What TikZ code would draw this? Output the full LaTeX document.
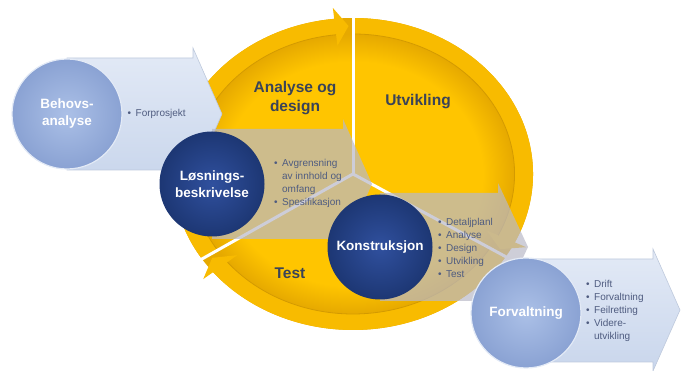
\documentclass[tikz,border=0pt]{standalone}
\usepackage{fontspec}
\setmainfont{Liberation Sans}
\usepackage{xcolor}
\usepackage{tikz}
\definecolor{cycmid}{HTML}{FFC500}
\definecolor{cycdark}{HTML}{E6A900}
\definecolor{ringgold}{HTML}{F8BB00}
\definecolor{ringedge}{HTML}{D39A00}
\definecolor{paleblue}{HTML}{E3EAF6}
\definecolor{paleblueb}{HTML}{C9D6EC}
\definecolor{chevgray}{HTML}{B9B9C8}
\definecolor{discdark}{HTML}{30509E}
\definecolor{discdarkout}{HTML}{1D3774}
\definecolor{disclight}{HTML}{ABC0E7}
\definecolor{disclightout}{HTML}{8AA2D3}
\definecolor{slate}{HTML}{3A4358}
\definecolor{listblue}{HTML}{4F5C80}
\pgfdeclareradialshading{cycleglow}{\pgfpoint{0bp}{0bp}}{color(0bp)=(cycmid); color(18bp)=(cycmid); color(22.4bp)=(cycdark); color(25bp)=(cycdark); color(50bp)=(cycdark)}
\newcommand{\blt}{\makebox[8pt][l]{\textbullet}}
\newcommand{\nobl}{\hspace*{8pt}}

\begin{document}
\begin{tikzpicture}[x=1pt, y=1pt,
	ring/.style={fill=ringgold},
	ringline/.style={draw=ringedge, line width=0.8pt},
	gap/.style={draw=white, line width=3pt},
	palechev/.style={top color=paleblue, bottom color=paleblueb, draw=paleblueb!85!gray, line width=0.6pt},
	graychev/.style={fill=chevgray, fill opacity=0.7},
	disc/.style={circle, minimum size=#1, inner sep=0pt, align=center, text=white, font=\fontsize{13.5}{17}\selectfont\bfseries},
	darkdisc/.style={disc=104pt, inner color=discdark, outer color=discdarkout, draw=discdarkout, line width=1pt},
	lightdisc/.style={disc=110pt, inner color=disclight, outer color=disclightout, draw=paleblue, line width=1.2pt},
	phase/.style={text=slate, align=center, font=\fontsize{15.5}{19}\selectfont\bfseries},
	bullets/.style={text=listblue, align=left, anchor=west, inner sep=0pt, font=\fontsize{10}{13}\selectfont}]
	\useasboundingbox (0,0) rectangle (683,371);
	
	% the cycle
	\begin{scope}[shift={(353,197)}, xscale=1.154]
	\shade[shading=cycleglow] (0,0) circle[radius=156];
	\fill[ring] (213:156) arc[start angle=213, end angle=96, radius=156] -- (96:167) -- (91.5:148) -- (96:129) -- (96:140) arc[start angle=96, end angle=213, radius=140] -- cycle;
	\fill[ring] (90:156) arc[start angle=90, end angle=-26, radius=156] -- (-26:167) -- (-30.5:148) -- (-26:129) -- (-26:140) arc[start angle=-26, end angle=90, radius=140] -- cycle;
	\fill[ring] (-32:156) arc[start angle=-32, end angle=-141, radius=156] -- (-141:167) -- (-145.5:148) -- (-141:129) -- (-141:140) arc[start angle=-141, end angle=-32, radius=140] -- cycle;
	\draw[ringline] (213:140) arc[start angle=213, end angle=96, radius=140];
	\draw[ringline] (90:140) arc[start angle=90, end angle=-26, radius=140];
	\draw[ringline] (-32:140) arc[start angle=-32, end angle=-141, radius=140];
	\draw[gap] (0,0) -- (90:172);
	\draw[gap] (0,0) -- (213:160);
	\draw[gap] (0,0) -- (-32:160);
	\end{scope}
	
	\node[phase] (anadesign) at (295,273) {Analyse og\\design};
	\node[phase] (utvikling) at (418,269) {Utvikling};
	\node[phase] (test) at (290,98) {Test};
	
	% Behovsanalyse
	\draw[palechev] (67,313) -- (193,313) -- (193,323) -- (222,257) -- (193,191) -- (193,201) -- (67,201) -- cycle;
	\node[lightdisc] (behov) at (67,257) {Behovs-\\analyse};
	\node[right of=behov, xshift=32pt, bullets] (forprosjekt) {\blt Forprosjekt};
	
	% Losningsbeskrivelse
	\fill[graychev] (212,242) -- (343,242) -- (343,252) -- (372,187) -- (343,122) -- (343,132) -- (212,132) -- cycle;
	\node[darkdisc] (losning) at (212,187) {Løsnings-\\beskrivelse};
	\node[right of=losning, xshift=33.5pt, yshift=1pt, bullets] (avgrensning) {\blt Avgrensning\\\nobl av innhold og\\\nobl omfang\\\blt Spesifikasjon};
	
	% Konstruksjon
	\fill[graychev] (380,178) -- (498,178) -- (498,188) -- (528,124) -- (498,60) -- (498,70) -- (380,70) -- cycle;
	\node[darkdisc] (konstr) at (380,124) {Konstruksjon};
	\node[right of=konstr, xshift=29.5pt, yshift=-1pt, bullets] (detaljplan) {\blt Detaljplanl\\\blt Analyse\\\blt Design\\\blt Utvikling\\\blt Test};
	
	% Forvaltning
	\draw[palechev] (526,112) -- (653,112) -- (653,122) -- (680,61) -- (653,0) -- (653,9) -- (526,9) -- cycle;
	\node[lightdisc] (forvalt) at (526,58) {Forvaltning};
	\node[right of=forvalt, xshift=31.5pt, yshift=2pt, bullets] (drift) {\blt Drift\\\blt Forvaltning\\\blt Feilretting\\\blt Videre-\\\nobl utvikling};
\end{tikzpicture}
\end{document}
